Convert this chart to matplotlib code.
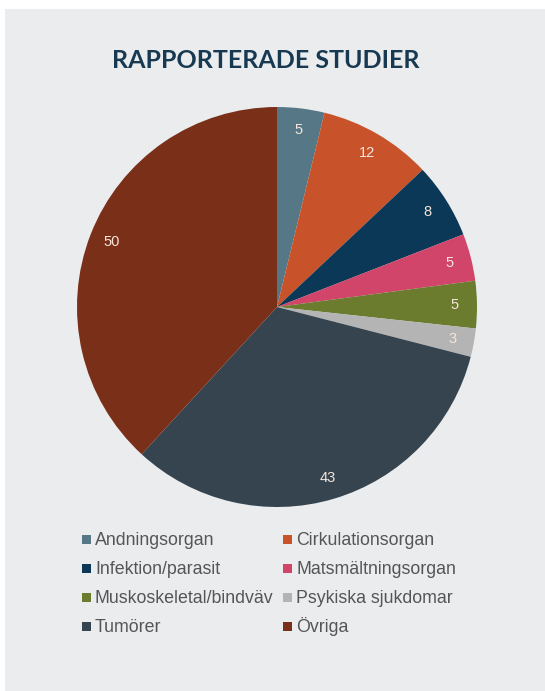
import matplotlib.pyplot as plt
from matplotlib.patches import Rectangle

# data
categories = ["Andningsorgan", "Cirkulationsorgan", "Infektion/parasit", "Matsmältningsorgan",
              "Muskoskeletal/bindväv", "Psykiska sjukdomar", "Tumörer", "Övriga"]
values = [5, 12, 8, 5, 5, 3, 43, 50]
colors = ["#567886", "#c8532a", "#0b3856", "#d1456a", "#6b7c2e", "#b4b4b4", "#35444f", "#7a2f19"]

W, H = 545, 691
fig = plt.figure(figsize=(W / 100, H / 100), dpi=100)
fig.patch.set_facecolor("white")

# gray panel
fig.patches.append(Rectangle((5 / W, 0), 1, 1 - 9 / H, transform=fig.transFigure,
                             facecolor="#ebecee", edgecolor="none", zorder=-5))

fig.text(266 / W, 1 - 60 / H, "RAPPORTERADE STUDIER", ha="center", va="center",
         fontsize=18, fontweight="bold", family="Lato", color="#173a52")

# pie
cx, cy, r = 277, 307, 200
ax = fig.add_axes([(cx - r) / W, 1 - (cy + r) / H, 2 * r / W, 2 * r / H])
ax.set_facecolor("none")
wedges, texts = ax.pie(values, colors=colors, startangle=90, counterclock=False,
                       labels=[str(v) for v in values], labeldistance=0.89,
                       wedgeprops=dict(linewidth=0))
for t in texts:
    t.set_color("#f6e6dc")
    t.set_fontsize(10.5)
    t.set_family("Liberation Sans")
    t.set_ha("center")
    t.set_va("center")
ax.set_xlim(-1, 1)
ax.set_ylim(-1, 1)
ax.set_aspect("equal")

# legend drawn by hand, two columns, row by row
sq = 9
for i, (name, c) in enumerate(zip(categories, colors)):
    row, col = divmod(i, 2)
    y = 539 + 29 * row
    x = 82 if col == 0 else 283
    fig.patches.append(Rectangle((x / W, 1 - (y + sq / 2) / H), sq / W, sq / H,
                                 transform=fig.transFigure, facecolor=c, edgecolor="none"))
    fig.text((x + sq + 4) / W, 1 - (y + 6) / H, name, ha="left", va="baseline",
             fontsize=12.8, family="Liberation Sans", color="#555555")

fig.savefig("out.png", dpi=100)
